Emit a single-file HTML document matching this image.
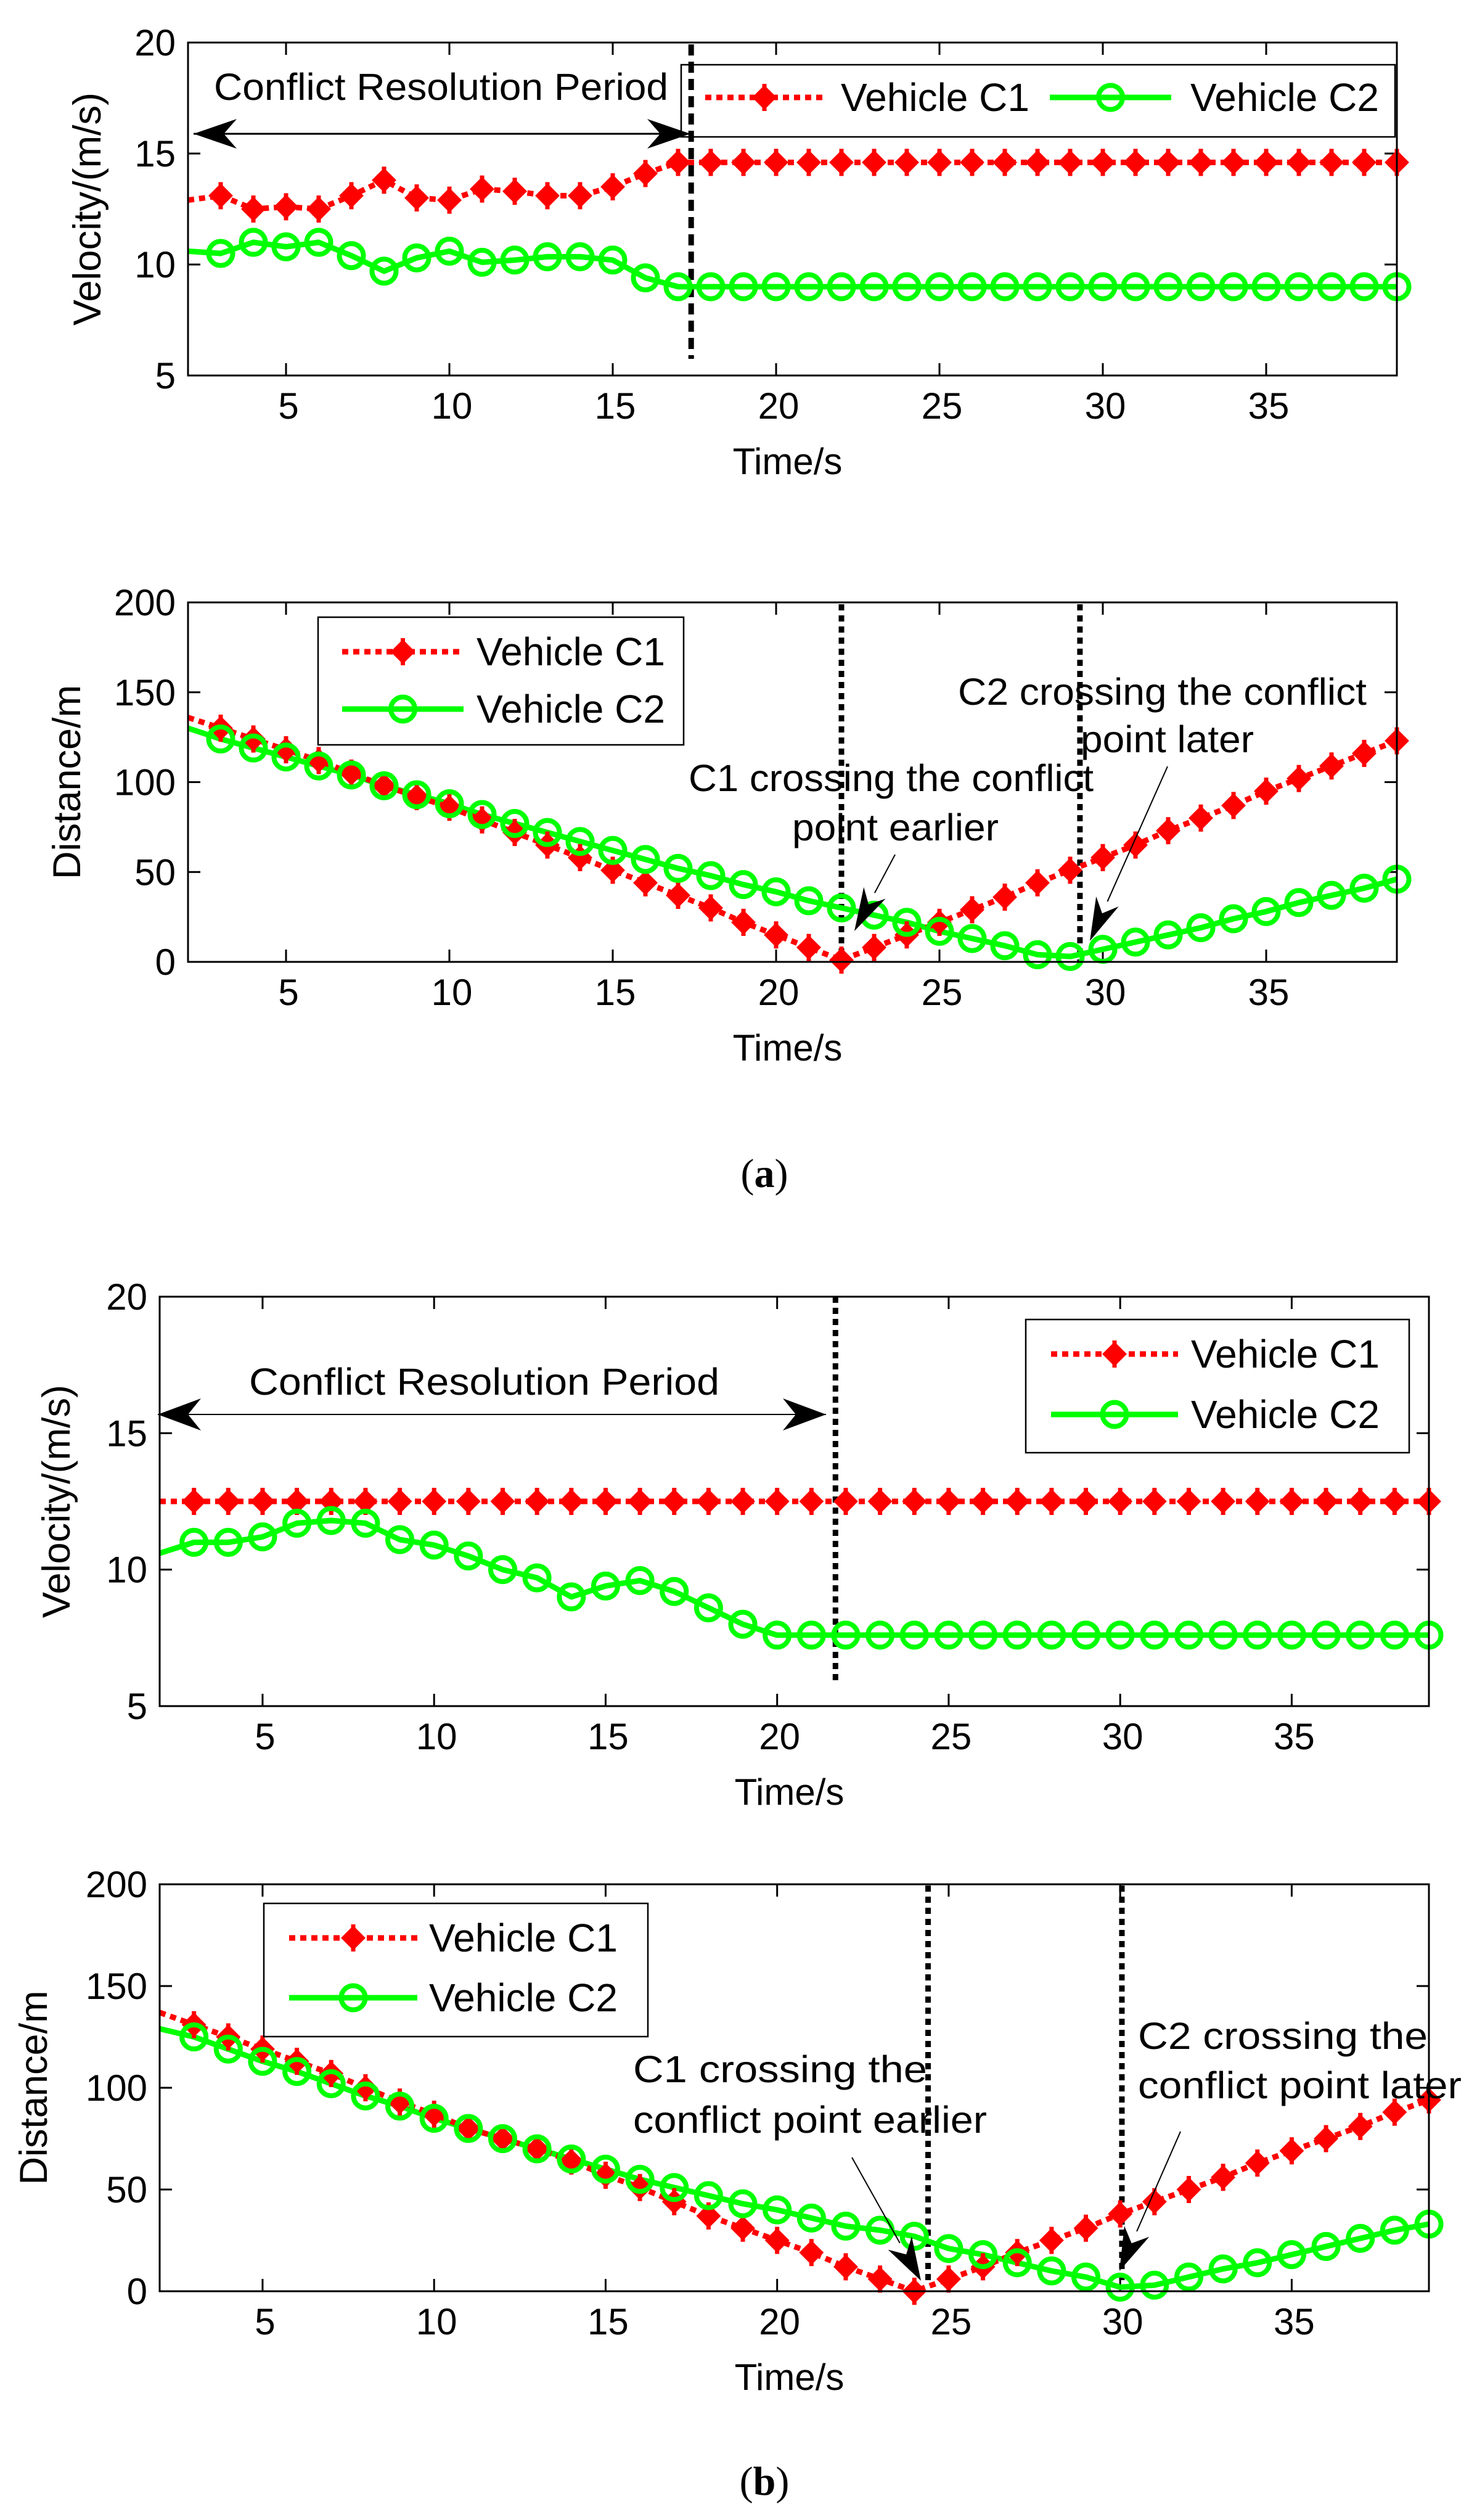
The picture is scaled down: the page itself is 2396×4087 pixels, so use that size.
<!DOCTYPE html>
<html><head><meta charset="utf-8"><title>Vehicle velocity and distance</title>
<style>
html,body{margin:0;padding:0;background:#fff;}
svg{display:block;font-family:"Liberation Sans",Arial,sans-serif;}
</style></head>
<body>
<svg id="fig" width="2396" height="4087" viewBox="0 0 2396 4087" xmlns="http://www.w3.org/2000/svg">
<rect width="2396" height="4087" fill="#fff"/>
<g id="layer"></g>
<text x="1240" y="1925" text-anchor="middle" font-family="Liberation Serif, serif" font-size="66">(<tspan font-weight="bold">a</tspan>)</text>
<text x="1240" y="4046" text-anchor="middle" font-family="Liberation Serif, serif" font-size="66">(<tspan font-weight="bold">b</tspan>)</text>
</svg>
<script>
// ---- data ----
const timeSteps = [2,3,4,5,6,7,8,9,10,11,12,13,14,15,16,17,18,19,20,21,22,23,24,25,26,27,28,29,30,31,32,33,34,35,36,37,38,39];
const xTickValues = [5,10,15,20,25,30,35];
const velTickValues = [5,10,15,20];
const distTickValues = [0,50,100,150,200];

const velC1a = [12.9,13.1,12.5,12.6,12.5,13.1,13.8,13.0,12.9,13.4,13.3,13.1,13.1,13.5,14.1,14.6,14.6,14.6,14.6,14.6,14.6,14.6,14.6,14.6,14.6,14.6,14.6,14.6,14.6,14.6,14.6,14.6,14.6,14.6,14.6,14.6,14.6,14.6];
const velC2a = [10.6,10.5,11.0,10.8,11.0,10.4,9.7,10.3,10.6,10.1,10.2,10.35,10.35,10.2,9.4,9.0,9.0,9.0,9.0,9.0,9.0,9.0,9.0,9.0,9.0,9.0,9.0,9.0,9.0,9.0,9.0,9.0,9.0,9.0,9.0,9.0,9.0,9.0];
const distC1a = [136,130,124,118,112,105,98,92,86,79,72,65,58,51,44,37,30,22,15,8,1,8,15,22,29,36,44,51,58,65,73,80,87,95,102,109,116,123];
const distC2a = [130,124,119,114,109,104,98,93,88,82,77,72,67,62,57,52,48,43,39,34,30,26,22,17,13,9,4,3,7,11,15,19,24,28,33,37,41,46];

const velC1b = [12.5,12.5,12.5,12.5,12.5,12.5,12.5,12.5,12.5,12.5,12.5,12.5,12.5,12.5,12.5,12.5,12.5,12.5,12.5,12.5,12.5,12.5,12.5,12.5,12.5,12.5,12.5,12.5,12.5,12.5,12.5,12.5,12.5,12.5,12.5,12.5,12.5,12.5];
const velC2b = [10.6,11.0,11.0,11.2,11.7,11.8,11.7,11.1,10.9,10.5,10.0,9.7,9.0,9.4,9.6,9.2,8.6,8.0,7.6,7.6,7.6,7.6,7.6,7.6,7.6,7.6,7.6,7.6,7.6,7.6,7.6,7.6,7.6,7.6,7.6,7.6,7.6,7.6];
const distC1b = [137,131,125,119,113,107,100,93,87,80,75,70,64,57,51,44,37,31,25,19,12,6,0,6,12,19,25,31,38,44,50,56,63,69,75,81,88,94];
const distC2b = [129,125,119,113,108,102,96,91,85,80,75,70,65,60,55,51,47,43,40,36,32,30,27,21,18,14,10,7,2,3,7,11,14,18,22,26,30,33];

const eventsVelA = [17.4];
const eventsDistA = [22.0, 29.3];
const eventsVelB = [21.7];
const eventsDistB = [24.4, 30.05];

// ---- helpers ----
const NS = "http://www.w3.org/2000/svg";
const layer = document.getElementById("layer");
function mk(tag, attrs, parent){
  const el = document.createElementNS(NS, tag);
  for (const k in attrs) el.setAttribute(k, attrs[k]);
  (parent || layer).appendChild(el);
  return el;
}

function drawChart(box, yMin, yMax, yTicks, c1, c2, events, eventStyle, eventTop, eventBottom, yTitle, yTitleX, key){
  const L = box.L, R = box.R, T = box.T, B = box.B;
  const xs = v => L + (v - 2) / 37 * (R - L);
  const ys = v => B - (v - yMin) / (yMax - yMin) * (B - T);
  const g = mk("g", {});
  
  

  // ticks
  xTickValues.forEach(v => {
    const x = xs(v);
    mk("line", {x1:x, y1:B, x2:x, y2:B-20, stroke:"#000", "stroke-width":3}, g);
    mk("line", {x1:x, y1:T, x2:x, y2:T+20, stroke:"#000", "stroke-width":3}, g);
    const t = mk("text", {x:x+4, y:B+70, "text-anchor":"middle", "font-size":60}, g);
    t.textContent = v;
    
    
  });
  yTicks.forEach(v => {
    const y = ys(v);
    mk("line", {x1:L, y1:y, x2:L+20, y2:y, stroke:"#000", "stroke-width":3}, g);
    mk("line", {x1:R, y1:y, x2:R-20, y2:y, stroke:"#000", "stroke-width":3}, g);
    const t = mk("text", {x:L-20, y:y+21, "text-anchor":"end", "font-size":60}, g);
    t.textContent = v;
    
    
  });

  // event lines
  events.forEach(v => {
    const ln = mk("line", {x1:xs(v), y1:eventTop, x2:xs(v), y2:eventBottom, stroke:"#000", "stroke-width":9, "stroke-dasharray":eventStyle}, g);
    
    
  });

  // series C2 (solid green with circles)
  let d2 = "";
  timeSteps.forEach((t,i) => { d2 += (i ? "L" : "M") + xs(t).toFixed(1) + " " + ys(c2[i]).toFixed(1); });
  const p2 = mk("path", {d:d2, fill:"none", stroke:"#00ff00", "stroke-width":9, "stroke-linejoin":"round"}, g);
  
  

  // series C1 (dotted red with diamonds)
  let d1 = "";
  timeSteps.forEach((t,i) => { d1 += (i ? "L" : "M") + xs(t).toFixed(1) + " " + ys(c1[i]).toFixed(1); });
  const p1 = mk("path", {d:d1, fill:"none", stroke:"#ff0000", "stroke-width":9, "stroke-dasharray":"10 8"}, g);
  
  

  timeSteps.forEach((t,i) => {
    if (t < 3) return;
    const x = xs(t), y = ys(c1[i]);
    const m = mk("path", {d:`M${x} ${y-15}L${x+15} ${y}L${x} ${y+15}L${x-15} ${y}Z M${x} ${y-22}V${y+22}`, fill:"#ff0000", stroke:"#ff0000", "stroke-width":7}, g);
    
    
  });
  timeSteps.forEach((t,i) => {
    if (t < 3) return;
    const c = mk("circle", {cx:xs(t), cy:ys(c2[i]), r:19.5, fill:"none", stroke:"#00ff00", "stroke-width":8}, g);
    
    
  });

  // axes box
  const ax = mk("rect", {x:L, y:T, width:R-L, height:B-T, fill:"none", stroke:"#000", "stroke-width":3}, g);
  
  

  // axis titles
  const xt = mk("text", {x:(L+R)/2 - 8, y:B+160, "text-anchor":"middle", "font-size":60}, g);
  xt.textContent = "Time/s";
  
  
  const yt = mk("text", {x:0, y:0, "text-anchor":"middle", "font-size":63, transform:`translate(${yTitleX},${(T+B)/2}) rotate(-90)`}, g);
  yt.textContent = yTitle;
  
  
  return g;
}

function legendEntry(g, y, x1, x2, label, kind, tx){
  const xm = (x1 + x2) / 2;
  if (kind === 1) {
    mk("line", {x1:x1, y1:y, x2:x2, y2:y, stroke:"#ff0000", "stroke-width":9, "stroke-dasharray":"10 8"}, g);
    mk("path", {d:`M${xm} ${y-15}L${xm+15} ${y}L${xm} ${y+15}L${xm-15} ${y}Z M${xm} ${y-22}V${y+22}`, fill:"#ff0000", stroke:"#ff0000", "stroke-width":7}, g);
  } else {
    mk("line", {x1:x1, y1:y, x2:x2, y2:y, stroke:"#00ff00", "stroke-width":9}, g);
    mk("circle", {cx:xm, cy:y, r:19.5, fill:"none", stroke:"#00ff00", "stroke-width":8}, g);
  }
  const t = mk("text", {x:tx, y:y+22, "font-size":64}, g);
  t.textContent = label;
}

function legend(x, y, w, h, key){
  const g = mk("g", {});
  
  
  mk("rect", {x:x, y:y, width:w, height:h, fill:"#fff", stroke:"#000", "stroke-width":2.5}, g);
  return g;
}

function label(x, y, str, len, name){
  const t = mk("text", {x:x, y:y, "font-size":61, textLength:len, lengthAdjust:"spacingAndGlyphs"});
  t.textContent = str;
  
  
}
function arrow(x1, y1, x2, y2, name, w, headLen, headW){
  const g = mk("g", {});
  
  
  const dx = x2-x1, dy = y2-y1, len = Math.hypot(dx,dy), ux = dx/len, uy = dy/len;
  const bx = x2 - ux*headLen, by = y2 - uy*headLen;
  mk("line", {x1:x1, y1:y1, x2:bx, y2:by, stroke:"#000", "stroke-width":w}, g);
  const nx = -uy, ny = ux;
  const ix = x2 - ux*headLen*0.7, iy = y2 - uy*headLen*0.7;
  mk("path", {d:`M${x2} ${y2}L${bx+nx*headW} ${by+ny*headW}L${ix} ${iy}L${bx-nx*headW} ${by-ny*headW}Z`, fill:"#000"}, g);
}

// ---- chart 1 : velocity (a) ----
// legend first (behind event line in chart1 it is drawn over; draw box before chart so line overlays)
const lg1 = legend(1105, 105, 1158, 117, "legend-velocity-a");
legendEntry(lg1, 158, 1144, 1336, "Vehicle C1", 1, 1364);
legendEntry(lg1, 158, 1703, 1900, "Vehicle C2", 2, 1931);
drawChart({L:305,R:2266,T:69,B:609}, 5, 20, velTickValues, velC1a, velC2a, eventsVelA, "18 10", 72, 582, "Velocity/(m/s)", 163, "velocity-a");
label(347, 162, "Conflict Resolution Period", 737, "conflict-resolution-label-a");
arrow(1120, 217, 314, 217, "period-arrow-left-a", 3, 70, 24);
arrow(314, 217, 1120, 217, "period-arrow-right-a", 3, 70, 24);

// ---- chart 2 : distance (a) ----
drawChart({L:305,R:2266,T:977,B:1560}, 0, 200, distTickValues, distC1a, distC2a, eventsDistA, "10 8", 980, 1560, "Distance/m", 130, "distance-a");
const lg2 = legend(516, 1001, 593, 207, "legend-distance-a");
legendEntry(lg2, 1057, 555, 752, "Vehicle C1", 1, 773);
legendEntry(lg2, 1150, 555, 752, "Vehicle C2", 2, 773);
label(1117, 1283, "C1 crossing the conflict", 657, "annotation-c1-a-line1");
label(1285, 1363, "point earlier", 335, "annotation-c1-a-line2");
label(1554, 1143, "C2 crossing the conflict", 663, "annotation-c2-a-line1");
label(1753, 1220, "point later", 281, "annotation-c2-a-line2");
arrow(1452, 1386, 1386, 1510, "arrow-c1-a", 2, 70, 20);
arrow(1894, 1243, 1768, 1526, "arrow-c2-a", 2, 70, 20);

// ---- chart 3 : velocity (b) ----
drawChart({L:259,R:2318,T:2103,B:2767}, 5, 20, velTickValues, velC1b, velC2b, eventsVelB, "10 8", 2103, 2731, "Velocity/(m/s)", 113, "velocity-b");
const lg3 = legend(1664, 2140, 622, 216, "legend-velocity-b");
legendEntry(lg3, 2196, 1705, 1911, "Vehicle C1", 1, 1932);
legendEntry(lg3, 2294, 1705, 1911, "Vehicle C2", 2, 1932);
label(404, 2262, "Conflict Resolution Period", 763, "conflict-resolution-label-b");
arrow(1340, 2294, 256, 2294, "period-arrow-left-b", 2, 70, 26);
arrow(256, 2294, 1340, 2294, "period-arrow-right-b", 2, 70, 26);

// ---- chart 4 : distance (b) ----
drawChart({L:259,R:2318,T:3056,B:3716}, 0, 200, distTickValues, distC1b, distC2b, eventsDistB, "10 8", 3058, 3700, "Distance/m", 76, "distance-b");
const lg4 = legend(428, 3087, 623, 216, "legend-distance-b");
legendEntry(lg4, 3143, 469, 677, "Vehicle C1", 1, 696);
legendEntry(lg4, 3240, 469, 677, "Vehicle C2", 2, 696);
label(1027, 3377, "C1 crossing the", 477, "annotation-c1-b-line1");
label(1027, 3459, "conflict point earlier", 574, "annotation-c1-b-line2");
label(1846, 3323, "C2 crossing the", 470, "annotation-c2-b-line1");
label(1846, 3403, "conflict point later", 525, "annotation-c2-b-line2");
arrow(1382, 3499, 1494, 3699, "arrow-c1-b", 2, 70, 22);
arrow(1915, 3457, 1816, 3683, "arrow-c2-b", 2, 70, 22);
</script>
</body></html>
